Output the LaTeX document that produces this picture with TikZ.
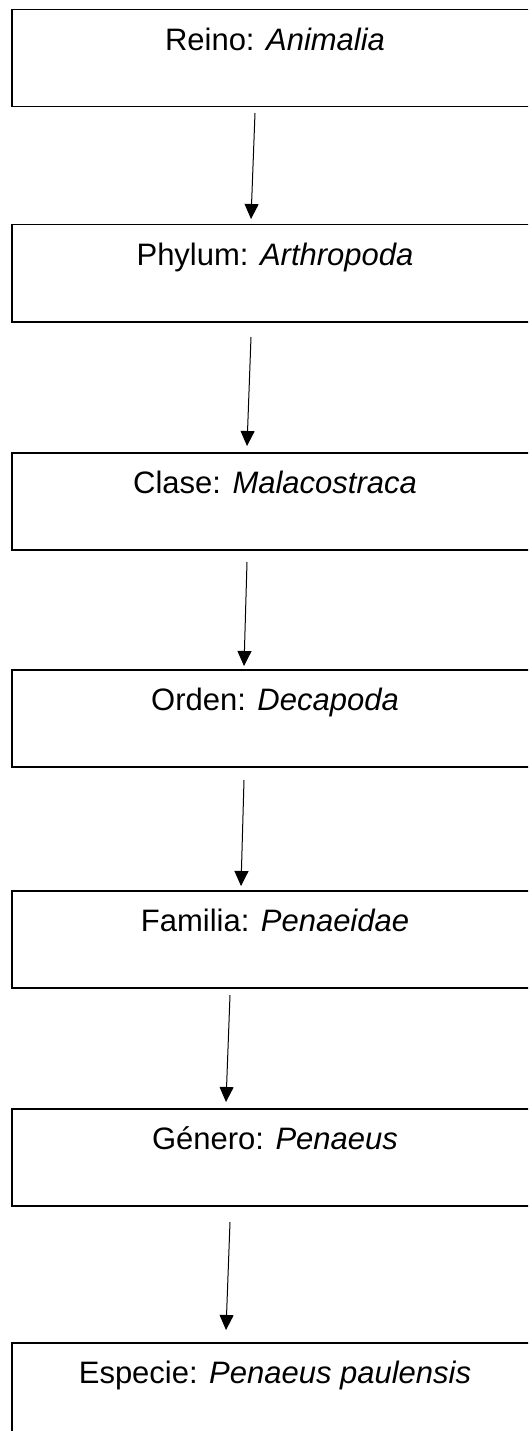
\documentclass[tikz,border=0pt]{standalone}
\usepackage{fontspec}
\setmainfont{Liberation Sans}
\usetikzlibrary{arrows.meta}

\tikzset{
	taxbox/.style={draw, line width=1.5pt, anchor=north, minimum width=526pt, inner sep=0pt,
		text height=41pt, text depth=56pt, font=\fontsize{31pt}{37pt}\selectfont},
	taxarrow/.style={line width=1pt, -{Triangle[width=14pt, length=15pt]}}
}

\begin{document}
\begin{tikzpicture}[x=1pt, y=1pt]
			%%%%% START %%%%%
			
			\useasboundingbox (0, 0) rectangle (528, -1431);
			\clip (0, 0) rectangle (528, -1431);
			
			\node[taxbox] (reino) at (275, -9) {Reino: \textit{Animalia}};
			\node[taxbox] (phylum) at (275, -224) {Phylum: \textit{Arthropoda}};
			\node[taxbox] (clase) at (275, -452) {Clase: \textit{Malacostraca}};
			\node[taxbox] (orden) at (275, -669) {Orden: \textit{Decapoda}};
			\node[taxbox] (familia) at (275, -890) {Familia: \textit{Penaeidae}};
			\node[taxbox] (genero) at (275, -1108) {Género: \textit{Penaeus}};
			\node[taxbox] (especie) at (275, -1342) {Especie: \textit{Penaeus paulensis}};
			
			% arrow ends, a little off the boxes
			\coordinate (reino out) at (255, -113);
			\coordinate (phylum in) at (251, -219);
			\coordinate (phylum out) at (251, -337);
			\coordinate (clase in) at (247, -446);
			\coordinate (clase out) at (247, -562);
			\coordinate (orden in) at (244, -666);
			\coordinate (orden out) at (244, -780);
			\coordinate (familia in) at (241, -886);
			\coordinate (familia out) at (230, -995);
			\coordinate (genero in) at (226, -1102);
			\coordinate (genero out) at (230, -1222);
			\coordinate (especie in) at (226, -1330);
			
			\draw[taxarrow] (reino out) -- (phylum in);
			\draw[taxarrow] (phylum out) -- (clase in);
			\draw[taxarrow] (clase out) -- (orden in);
			\draw[taxarrow] (orden out) -- (familia in);
			\draw[taxarrow] (familia out) -- (genero in);
			\draw[taxarrow] (genero out) -- (especie in);
			
			%%%%% END %%%%%
\end{tikzpicture}
\end{document}
